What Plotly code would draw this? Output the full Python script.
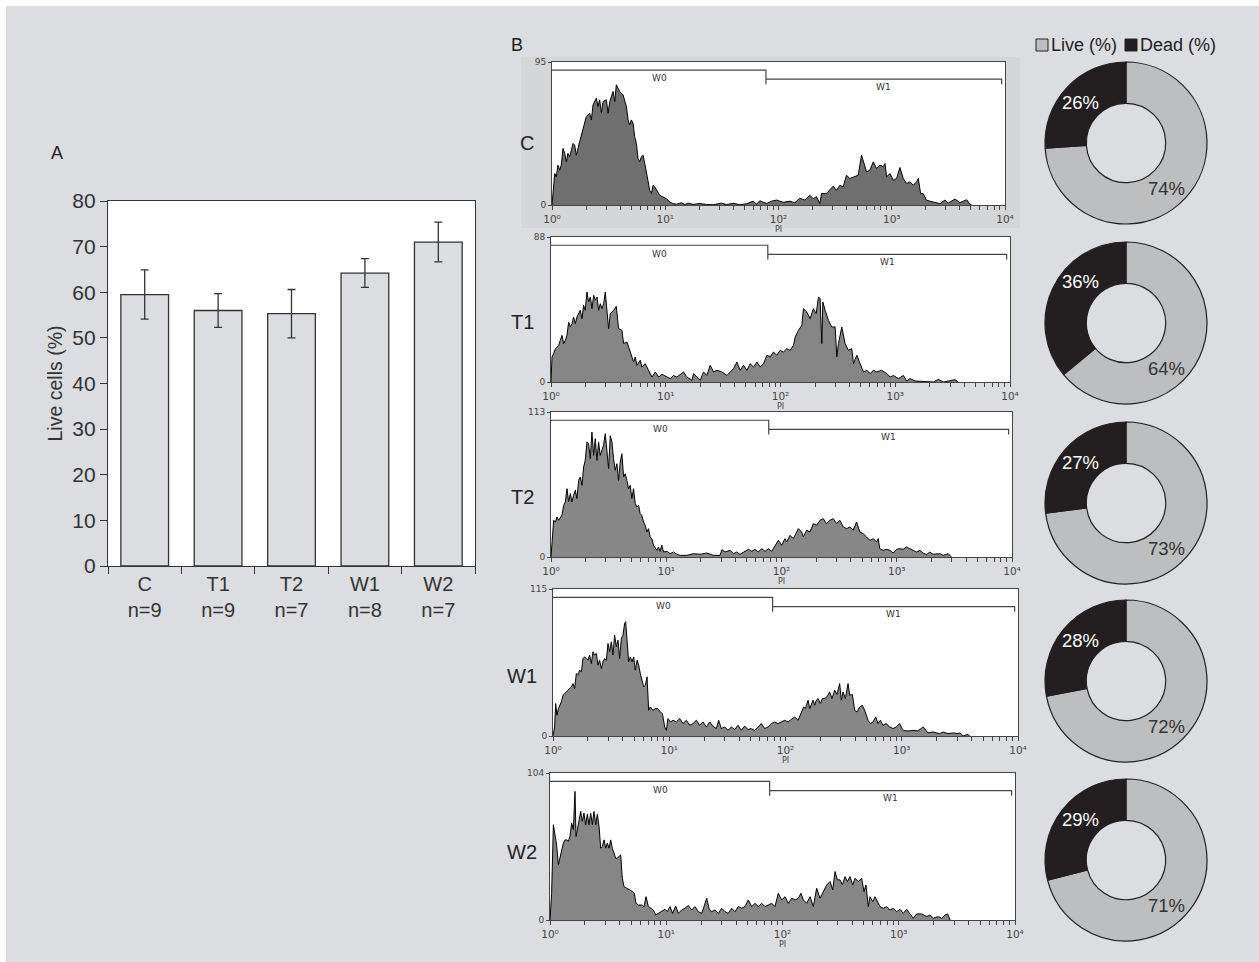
import numpy as np
import plotly.graph_objects as go

# ---------------- data ----------------
groups = ["C", "T1", "T2", "W1", "W2"]
n_per_group = [9, 9, 7, 8, 7]
live_mean = [59.5, 56.0, 55.3, 64.2, 71.0]
live_err = [5.4, 3.7, 5.3, 3.15, 4.35]

live_pct = [74, 64, 73, 72, 71]
dead_pct = [26, 36, 27, 28, 29]
pie_labels = ["Live (%)", "Dead (%)"]

hist_ymax = [95, 88, 113, 115, 104]
gate_split = 77.5      # PI value where W0 ends / W1 starts
gate_end = 9350        # PI value where W1 ends
w0_label_pos = 8.9
w1_label_pos = 850
decade_ticks = [1, 10, 100, 1000, 10000]
decade_labels = ["10\u2070", "10\u00b9", "10\u00b2", "10\u00b3", "10\u2074"]
minor_ticks = [2, 3, 4, 5, 6, 7, 8, 9, 20, 30, 40, 50, 60, 70, 80, 90,
               200, 300, 400, 500, 600, 700, 800, 900,
               2000, 3000, 4000, 5000, 6000, 7000, 8000, 9000]

# PI (as log10 position) and event counts
C_logpi = [0, 0.024, 0.038, 0.053, 0.068, 0.082, 0.097, 0.112, 0.127, 0.141,
           0.156, 0.186, 0.200, 0.215, 0.244, 0.274, 0.303, 0.333, 0.348, 0.362,
           0.392, 0.406, 0.421, 0.436, 0.451, 0.480, 0.495, 0.510, 0.539, 0.554,
           0.568, 0.583, 0.598, 0.627, 0.642, 0.657, 0.672, 0.686, 0.701, 0.716,
           0.730, 0.745, 0.760, 0.775, 0.789, 0.804, 0.819, 0.834, 0.848, 0.863,
           0.878, 0.892, 0.907, 0.922, 0.951, 0.981, 1.010, 1.040, 1.069, 1.099,
           1.143, 1.172, 1.202, 1.246, 1.305, 1.364, 1.423, 1.496, 1.541, 1.599,
           1.658, 1.717, 1.776, 1.806, 1.835, 1.894, 1.938, 1.982, 2.041, 2.100,
           2.144, 2.188, 2.233, 2.277, 2.306, 2.336, 2.365, 2.380, 2.424, 2.454,
           2.483, 2.512, 2.542, 2.571, 2.601, 2.630, 2.660, 2.704, 2.733, 2.763,
           2.778, 2.807, 2.837, 2.866, 2.896, 2.925, 2.940, 2.955, 2.984, 3.014,
           3.043, 3.072, 3.102, 3.131, 3.161, 3.190, 3.219, 3.234, 3.255, 3.278,
           3.308, 3.367, 3.426, 3.470, 3.499, 3.558, 3.602, 3.661, 3.691, 3.706]
C_counts = [0, 20.9, 18.7, 26.5, 23.1, 26.5, 37.6, 34.3, 28.7, 34.3,
            32.0, 40.9, 39.8, 33.1, 42.0, 50.9, 58.7, 61.0, 56.5, 66.5,
            71.0, 65.4, 69.9, 61.0, 68.7, 69.9, 61.0, 68.7, 75.4, 68.7,
            79.9, 77.6, 75.4, 73.2, 68.7, 65.4, 56.5, 53.2, 56.5, 54.3,
            45.4, 40.9, 30.9, 28.7, 32.0, 33.1, 27.6, 20.9, 14.2, 9.8,
            7.6, 13.1, 12.0, 9.8, 6.5, 5.3, 4.2, 2.0, 0.9, 0.5,
            1.5, 0.3, 1.2, 0.4, 1.0, 0.3, 0.2, 1.2, 0.3, 1.1,
            0.2, 0.8, 2.5, 0.6, 2.8, 1.0, 2.5, 3.3, 1.8, 2.5,
            1.5, 4.5, 3.3, 6.5, 4.2, 5.5, 0.9, 7.6, 7.6, 10.2,
            12.5, 9.8, 13.1, 12.0, 19.8, 17.6, 18.7, 19.8, 33.1, 25.4,
            22.0, 23.1, 28.7, 24.3, 26.5, 25.4, 27.6, 18.7, 20.9, 16.5,
            17.6, 24.9, 17.6, 14.2, 15.4, 13.1, 15.4, 17.6, 7.6, 7.6,
            3.1, 2.0, 0.9, 3.3, 1.2, 4.0, 1.5, 3.5, 0.5, 0]

T1_logpi = [0, 0.009, 0.023, 0.038, 0.052, 0.067, 0.081, 0.096, 0.110, 0.125,
            0.139, 0.154, 0.168, 0.183, 0.197, 0.212, 0.226, 0.255, 0.270, 0.284,
            0.299, 0.313, 0.328, 0.343, 0.357, 0.372, 0.386, 0.401, 0.415, 0.430,
            0.444, 0.459, 0.473, 0.488, 0.502, 0.517, 0.546, 0.569, 0.589, 0.618,
            0.633, 0.662, 0.676, 0.705, 0.720, 0.734, 0.749, 0.778, 0.792, 0.821,
            0.851, 0.880, 0.909, 0.938, 0.967, 1.010, 1.039, 1.068, 1.097, 1.155,
            1.184, 1.228, 1.242, 1.271, 1.300, 1.329, 1.358, 1.387, 1.417, 1.446,
            1.489, 1.533, 1.562, 1.591, 1.620, 1.649, 1.678, 1.707, 1.736, 1.765,
            1.794, 1.823, 1.852, 1.881, 1.910, 1.939, 1.968, 1.997, 2.026, 2.055,
            2.084, 2.113, 2.128, 2.157, 2.186, 2.200, 2.229, 2.258, 2.287, 2.311,
            2.331, 2.345, 2.360, 2.369, 2.389, 2.418, 2.447, 2.476, 2.491, 2.505,
            2.534, 2.563, 2.592, 2.621, 2.636, 2.665, 2.694, 2.723, 2.752, 2.781,
            2.810, 2.839, 2.882, 2.926, 2.955, 2.984, 3.028, 3.071, 3.100, 3.129,
            3.173, 3.245, 3.332, 3.376, 3.420, 3.521, 3.550]
T1_counts = [0, 15.2, 17.2, 20.2, 21.2, 22.3, 25.3, 28.3, 23.3, 25.3,
             28.3, 36.4, 33.4, 35.4, 39.4, 35.4, 39.4, 43.5, 38.4, 46.5,
             43.5, 54.6, 48.6, 51.6, 44.5, 52.6, 49.6, 51.6, 43.5, 47.5,
             44.5, 47.5, 54.6, 44.5, 32.4, 41.5, 43.5, 45.9, 32.4, 31.4,
             23.3, 24.3, 21.2, 15.2, 12.1, 15.2, 10.1, 13.2, 9.1, 11.1,
             7.1, 3.0, 6.1, 3.0, 4.7, 3.0, 2.0, 4.0, 3.0, 6.1,
             3.0, 1.0, 5.1, 3.0, 1.0, 6.1, 4.0, 10.1, 6.1, 7.1,
             6.1, 4.0, 6.1, 8.1, 12.1, 7.1, 10.1, 7.1, 11.1, 9.1,
             12.1, 9.1, 11.1, 16.2, 15.2, 18.2, 16.2, 19.2, 18.2, 20.2,
             19.2, 22.3, 27.3, 31.4, 34.4, 44.5, 42.5, 38.4, 44.5, 41.5,
             51.6, 50.6, 23.3, 48.6, 43.5, 37.4, 33.4, 33.4, 15.2, 23.3,
             33.4, 23.3, 19.2, 20.2, 11.1, 16.2, 11.1, 6.1, 7.1, 5.1,
             7.1, 6.1, 7.1, 5.1, 3.0, 4.0, 2.0, 4.0, 0.6, 2.0,
             0.6, 0.4, 0, 1.6, 0, 1.4, 0]

T2_logpi = [0, 0.009, 0.023, 0.038, 0.052, 0.066, 0.081, 0.095, 0.110, 0.124,
            0.139, 0.153, 0.168, 0.182, 0.196, 0.211, 0.225, 0.240, 0.254, 0.269,
            0.283, 0.297, 0.312, 0.326, 0.341, 0.355, 0.370, 0.384, 0.399, 0.413,
            0.427, 0.442, 0.456, 0.471, 0.485, 0.500, 0.514, 0.529, 0.543, 0.557,
            0.572, 0.586, 0.601, 0.615, 0.630, 0.644, 0.658, 0.673, 0.687, 0.702,
            0.716, 0.731, 0.745, 0.760, 0.774, 0.788, 0.803, 0.817, 0.832, 0.846,
            0.861, 0.875, 0.890, 0.904, 0.918, 0.933, 0.947, 0.962, 0.976, 1.005,
            1.034, 1.063, 1.092, 1.121, 1.178, 1.236, 1.294, 1.352, 1.409, 1.467,
            1.482, 1.510, 1.554, 1.583, 1.612, 1.640, 1.684, 1.713, 1.742, 1.770,
            1.799, 1.828, 1.857, 1.886, 1.915, 1.944, 1.973, 2.001, 2.030, 2.045,
            2.074, 2.103, 2.131, 2.146, 2.175, 2.189, 2.218, 2.247, 2.276, 2.305,
            2.334, 2.362, 2.391, 2.420, 2.449, 2.478, 2.507, 2.536, 2.565, 2.594,
            2.622, 2.651, 2.680, 2.709, 2.738, 2.767, 2.796, 2.825, 2.839, 2.853,
            2.882, 2.911, 2.940, 2.969, 2.998, 3.027, 3.056, 3.084, 3.113, 3.142,
            3.171, 3.200, 3.229, 3.258, 3.287, 3.315, 3.373, 3.402, 3.446, 3.474]
T2_counts = [0, 9.1, 28.6, 27.3, 31.2, 28.6, 31.2, 32.5, 40.3, 42.9,
             53.2, 42.9, 49.4, 42.9, 48.1, 52.0, 45.5, 59.7, 62.3, 55.8,
             70.1, 75.3, 89.6, 88.3, 76.6, 97.4, 79.2, 92.2, 75.3, 89.6,
             79.2, 83.1, 87.0, 96.1, 84.4, 68.8, 94.5, 89.6, 76.6, 67.5,
             72.7, 59.7, 74.0, 80.5, 62.3, 64.9, 59.7, 53.2, 55.8, 45.5,
             53.2, 41.6, 39.0, 40.3, 33.8, 32.5, 27.3, 24.7, 19.5, 22.1,
             15.6, 14.3, 9.1, 6.5, 5.2, 7.8, 4.4, 9.1, 3.9, 4.4,
             2.6, 3.9, 2.1, 1.3, 1.3, 2.6, 2.1, 3.1, 1.3, 1.3,
             5.7, 3.9, 5.2, 2.6, 3.9, 2.1, 4.4, 6.0, 4.4, 6.0,
             3.9, 6.5, 4.4, 6.5, 4.4, 9.1, 13.0, 9.1, 14.3, 11.7,
             16.9, 14.3, 19.5, 22.1, 19.5, 15.6, 20.8, 19.5, 26.0, 24.7,
             28.6, 29.9, 26.0, 28.6, 29.9, 26.0, 28.6, 23.4, 22.1, 23.4,
             20.8, 27.3, 19.5, 18.2, 15.6, 13.0, 14.3, 11.7, 14.3, 6.5,
             5.2, 6.0, 5.2, 3.1, 6.0, 6.5, 6.0, 7.8, 6.5, 5.2,
             3.9, 5.2, 3.1, 1.8, 3.9, 2.1, 2.6, 1.3, 2.6, 0]

W1_logpi = [0, 0.014, 0.023, 0.034, 0.046, 0.057, 0.072, 0.086, 0.100, 0.115,
            0.129, 0.143, 0.158, 0.172, 0.186, 0.201, 0.215, 0.229, 0.244, 0.258,
            0.272, 0.287, 0.301, 0.315, 0.330, 0.344, 0.358, 0.373, 0.387, 0.401,
            0.416, 0.430, 0.444, 0.459, 0.473, 0.487, 0.502, 0.516, 0.530, 0.545,
            0.559, 0.573, 0.588, 0.602, 0.616, 0.625, 0.637, 0.651, 0.665, 0.680,
            0.694, 0.708, 0.723, 0.737, 0.751, 0.766, 0.780, 0.794, 0.809, 0.823,
            0.837, 0.860, 0.880, 0.903, 0.923, 0.941, 0.961, 0.975, 0.989, 1.009,
            1.032, 1.061, 1.090, 1.118, 1.147, 1.176, 1.204, 1.233, 1.262, 1.290,
            1.319, 1.348, 1.376, 1.405, 1.425, 1.448, 1.477, 1.505, 1.534, 1.563,
            1.591, 1.620, 1.649, 1.677, 1.706, 1.735, 1.763, 1.792, 1.821, 1.849,
            1.878, 1.907, 1.935, 1.964, 1.993, 2.022, 2.050, 2.079, 2.108, 2.136,
            2.156, 2.171, 2.194, 2.208, 2.222, 2.237, 2.251, 2.265, 2.280, 2.300,
            2.317, 2.337, 2.357, 2.380, 2.400, 2.423, 2.443, 2.466, 2.480, 2.495,
            2.515, 2.538, 2.552, 2.575, 2.595, 2.615, 2.638, 2.661, 2.681, 2.710,
            2.730, 2.753, 2.776, 2.796, 2.816, 2.839, 2.867, 2.896, 2.925, 2.953,
            2.982, 3.011, 3.054, 3.097, 3.140, 3.183, 3.226, 3.269, 3.326, 3.355,
            3.398, 3.441, 3.484, 3.498, 3.527, 3.570, 3.584]
W1_counts = [0, 7.1, 25.4, 16.2, 21.4, 24.0, 26.7, 31.9, 33.2, 34.5,
             35.8, 37.1, 38.4, 41.0, 37.1, 48.9, 47.6, 51.5, 50.2, 60.6,
             61.9, 60.6, 59.3, 63.3, 56.7, 65.9, 63.3, 64.6, 55.4, 59.3,
             52.8, 58.0, 60.6, 59.3, 72.4, 65.9, 73.7, 63.3, 78.9, 69.8,
             75.0, 60.6, 76.3, 78.9, 88.1, 89.4, 73.7, 58.0, 61.9, 58.0,
             61.9, 51.5, 59.3, 55.4, 48.9, 43.6, 38.4, 39.7, 46.3, 20.1,
             22.7, 20.1, 21.4, 21.4, 18.8, 17.5, 7.1, 4.4, 13.6, 11.0,
             12.3, 11.0, 13.6, 9.7, 12.3, 8.4, 9.7, 12.3, 8.4, 11.0,
             7.1, 11.0, 7.6, 5.8, 12.3, 5.8, 7.1, 4.4, 7.1, 5.0,
             8.4, 4.4, 7.8, 5.0, 5.8, 4.4, 7.1, 9.7, 5.8, 7.1,
             9.7, 11.0, 9.7, 11.0, 12.3, 11.0, 12.8, 14.9, 12.3, 18.8,
             22.7, 21.4, 28.0, 21.4, 25.4, 28.0, 24.0, 28.0, 29.3, 25.4,
             29.3, 29.3, 30.6, 34.5, 29.3, 35.8, 32.5, 41.0, 28.0, 34.5,
             29.3, 41.0, 31.9, 32.5, 20.1, 18.8, 22.7, 24.0, 20.1, 12.3,
             9.7, 11.0, 14.9, 9.7, 12.3, 8.4, 9.7, 7.1, 5.8, 7.1,
             9.7, 4.4, 3.9, 4.4, 3.9, 7.1, 2.4, 3.1, 1.8, 3.1,
             1.8, 2.4, 1.8, 2.4, 0, 1.3, 0]

W2_logpi = [0, 0.014, 0.029, 0.043, 0.057, 0.072, 0.086, 0.100, 0.115, 0.129,
            0.143, 0.158, 0.172, 0.186, 0.201, 0.215, 0.224, 0.235, 0.249, 0.264,
            0.278, 0.292, 0.307, 0.321, 0.335, 0.350, 0.364, 0.378, 0.393, 0.407,
            0.422, 0.436, 0.450, 0.465, 0.479, 0.493, 0.508, 0.522, 0.536, 0.551,
            0.565, 0.579, 0.594, 0.608, 0.622, 0.637, 0.659, 0.688, 0.711, 0.725,
            0.740, 0.760, 0.789, 0.809, 0.826, 0.846, 0.866, 0.889, 0.909, 0.932,
            0.961, 0.989, 1.009, 1.032, 1.055, 1.081, 1.104, 1.133, 1.161, 1.190,
            1.219, 1.247, 1.276, 1.305, 1.325, 1.348, 1.371, 1.391, 1.419, 1.448,
            1.477, 1.505, 1.534, 1.563, 1.591, 1.620, 1.649, 1.677, 1.706, 1.735,
            1.763, 1.792, 1.821, 1.849, 1.878, 1.907, 1.935, 1.964, 1.993, 2.022,
            2.050, 2.079, 2.108, 2.136, 2.159, 2.179, 2.208, 2.237, 2.265, 2.294,
            2.323, 2.351, 2.380, 2.409, 2.432, 2.452, 2.472, 2.495, 2.515, 2.538,
            2.558, 2.581, 2.604, 2.624, 2.652, 2.681, 2.701, 2.718, 2.738, 2.753,
            2.776, 2.796, 2.816, 2.839, 2.867, 2.896, 2.925, 2.953, 2.982, 3.011,
            3.039, 3.068, 3.097, 3.125, 3.154, 3.197, 3.240, 3.269, 3.297, 3.340,
            3.369, 3.398, 3.421, 3.441]
W2_counts = [0, 18.9, 67.4, 59.1, 53.0, 39.0, 44.9, 49.6, 54.4, 56.7,
             56.7, 55.6, 59.1, 68.5, 63.8, 91.0, 59.1, 63.8, 70.9, 76.8,
             69.7, 75.6, 67.4, 74.8, 67.4, 75.6, 67.4, 76.8, 67.4, 74.8,
             66.2, 50.8, 52.0, 56.7, 50.8, 54.4, 50.8, 56.7, 50.8, 47.3,
             43.7, 43.7, 44.9, 46.1, 29.5, 23.6, 22.5, 21.3, 20.1, 18.9,
             11.8, 10.6, 10.6, 9.5, 16.5, 9.5, 8.3, 7.1, 3.5, 4.7,
             5.9, 7.6, 5.9, 9.5, 4.7, 9.9, 4.7, 7.1, 8.3, 10.2,
             7.1, 9.5, 5.9, 4.7, 9.5, 15.4, 7.1, 5.9, 7.1, 4.7,
             8.3, 5.9, 4.7, 8.3, 5.9, 9.5, 8.3, 9.5, 14.2, 9.5,
             11.8, 9.5, 11.8, 9.5, 10.6, 11.8, 9.5, 18.9, 14.2, 16.5,
             11.8, 15.4, 14.2, 15.4, 18.9, 14.2, 11.8, 16.5, 9.5, 22.5,
             15.4, 20.1, 24.8, 27.2, 21.3, 34.3, 28.4, 28.4, 24.8, 30.7,
             27.2, 30.7, 24.8, 29.5, 27.2, 29.5, 20.1, 24.8, 9.5, 16.5,
             13.0, 16.5, 13.0, 9.5, 8.3, 9.5, 7.1, 8.3, 5.9, 7.6,
             4.7, 7.6, 4.3, 1.2, 4.3, 4.3, 2.4, 3.5, 1.2, 2.4,
             1.2, 3.5, 4.3, 0]

hist_logpi = [C_logpi, T1_logpi, T2_logpi, W1_logpi, W2_logpi]
hist_counts = [C_counts, T1_counts, T2_counts, W1_counts, W2_counts]

# ---------------- layout helpers ----------------
W, H = 1259, 962


def xd(a, b):
    return [a / W, b / W]


def yd(top, bottom):
    return [1 - bottom / H, 1 - top / H]


def px(x):
    return x / W


def py(y):
    return 1 - y / H


SANS = "Liberation Sans, Arial, sans-serif"
DJ = "DejaVu Sans, sans-serif"
INK = "#333333"
BG = "#dcdde0"
LIVE_C = "#bdbec0"
DEAD_C = "#231f20"

hist_boxes = [(552, 1005, 62, 205), (551, 1010, 237, 382), (551, 1012, 412, 557),
              (553, 1018, 589, 736), (550, 1015, 773, 920)]
hist_fill = ["#6f6f6f", "#858585", "#878787", "#878787", "#868686"]
label_pos = [(527, 143), (522, 322), (522, 497), (522, 676), (522, 852)]
donut_cy = [143, 323, 503, 681, 860]
DONUT_CX, DONUT_R = 1126, 81


def note(x, y, text, size, color="#222", family=SANS, xanchor="center"):
    return dict(xref="paper", yref="paper", x=px(x), y=py(y), text=text,
                showarrow=False, xanchor=xanchor, yanchor="middle",
                font=dict(family=family, size=size, color=color))


fig = go.Figure()

# ---- Panel A: bars ----
fig.add_trace(go.Bar(
    x=list(range(len(groups))), y=live_mean, width=0.65,
    marker=dict(color=BG, line=dict(color=INK, width=1.3)),
    error_y=dict(type="data", array=live_err, color=INK, thickness=1.3, width=4),
    xaxis="x", yaxis="y", showlegend=False, hoverinfo="skip"))

layout_axes = {}
layout_axes["xaxis"] = dict(
    domain=xd(108, 475), range=[-0.5, len(groups) - 0.5], anchor="y", automargin=False,
    tickvals=list(range(len(groups))),
    ticktext=[f"{g}<br>n={n}" for g, n in zip(groups, n_per_group)],
    ticks="", showline=True, mirror=True, linecolor=INK, linewidth=1.3,
    tickfont=dict(family=SANS, size=20, color=INK), showgrid=False, zeroline=False,
    minor=dict(tickvals=[i - 0.5 for i in range(len(groups) + 1)], ticks="outside",
               ticklen=7, tickcolor=INK, tickwidth=1.3, showgrid=False))
layout_axes["yaxis"] = dict(
    domain=yd(201, 566), range=[0, 80], dtick=10, anchor="x", automargin=False,
    ticks="outside", ticklen=7, tickcolor=INK, tickwidth=1.3,
    showline=True, mirror=True, linecolor=INK, linewidth=1.3,
    tickfont=dict(family=SANS, size=21, color=INK), showgrid=False, zeroline=False,
    title=dict(text="Live cells (%)", font=dict(family=SANS, size=19.5, color=INK), standoff=4))

# ---- Panel B: histograms ----
shapes = [
    dict(type="rect", xref="paper", yref="paper", x0=0, x1=1, y0=py(6), y1=1,
         fillcolor="white", line=dict(width=0), layer="below"),
    dict(type="rect", xref="paper", yref="paper", x0=0, x1=px(6), y0=0, y1=1,
         fillcolor="white", line=dict(width=0), layer="below"),
    dict(type="rect", xref="paper", yref="paper", x0=px(521), x1=px(1020),
         y0=py(228), y1=py(57), fillcolor="#d5d6d7", line=dict(width=0), layer="below"),
]
annotations = []

for i in range(5):
    ax = i + 2
    xl, xr, yt, yb = hist_boxes[i]
    ymax = hist_ymax[i]
    pi = [10 ** d for d in hist_logpi[i]]
    fig.add_trace(go.Scatter(
        x=pi, y=hist_counts[i], mode="lines", fill="tozeroy",
        fillcolor=hist_fill[i], line=dict(color="black", width=1),
        xaxis=f"x{ax}", yaxis=f"y{ax}", showlegend=False, hoverinfo="skip"))
    # gates
    fig.add_trace(go.Scatter(
        x=[1, gate_split, gate_split], y=[0.943 * ymax, 0.943 * ymax, 0.845 * ymax],
        mode="lines", line=dict(color="#444", width=1.2),
        xaxis=f"x{ax}", yaxis=f"y{ax}", showlegend=False, hoverinfo="skip"))
    fig.add_trace(go.Scatter(
        x=[gate_split, gate_end, gate_end], y=[0.88 * ymax, 0.88 * ymax, 0.845 * ymax],
        mode="lines", line=dict(color="#444", width=1.2),
        xaxis=f"x{ax}", yaxis=f"y{ax}", showlegend=False, hoverinfo="skip"))
    shapes.append(dict(type="rect", xref=f"x{ax} domain", yref=f"y{ax} domain",
                       x0=0, x1=1, y0=0, y1=1, fillcolor="white", line=dict(width=0),
                       layer="below"))
    layout_axes[f"xaxis{ax}"] = dict(
        domain=xd(xl, xr), type="log", range=[0, 4], anchor=f"y{ax}", automargin=False,
        tickvals=decade_ticks, ticktext=decade_labels, ticks="outside", ticklen=4,
        tickcolor="#444", tickwidth=1, showline=True, mirror=True, linecolor="#444",
        linewidth=1, showgrid=False, zeroline=False,
        minor=dict(tickvals=minor_ticks, ticks="outside", ticklen=4, tickcolor="#444",
                   tickwidth=1, showgrid=False),
        tickfont=dict(family=DJ, size=10.5, color="#444"),
        title=dict(text="PI", font=dict(family=DJ, size=8, color="#444"), standoff=0))
    layout_axes[f"yaxis{ax}"] = dict(
        domain=yd(yt, yb), range=[0, ymax], anchor=f"x{ax}", automargin=False,
        tickvals=[0, ymax], ticks="outside", ticklen=3, tickcolor="#444",
        showline=True, mirror=True, linecolor="#444", linewidth=1,
        showgrid=False, zeroline=False,
        tickfont=dict(family=DJ, size=9, color="#444"))
    annotations.append(dict(xref=f"x{ax}", yref=f"y{ax}", x=np.log10(w0_label_pos),
                            y=0.885 * ymax, text="W0", showarrow=False,
                            font=dict(family=DJ, size=9, color="#333")))
    annotations.append(dict(xref=f"x{ax}", yref=f"y{ax}", x=np.log10(w1_label_pos),
                            y=0.828 * ymax, text="W1", showarrow=False,
                            font=dict(family=DJ, size=9, color="#333")))
    lx, ly = label_pos[i]
    annotations.append(note(lx, ly, groups[i], 20))

    # donut
    cy = donut_cy[i]
    fig.add_trace(go.Pie(
        labels=pie_labels, values=[live_pct[i], dead_pct[i]],
        domain=dict(x=xd(DONUT_CX - DONUT_R, DONUT_CX + DONUT_R),
                    y=yd(cy - DONUT_R, cy + DONUT_R)),
        hole=0.49, sort=False, direction="clockwise", rotation=0, automargin=False,
        marker=dict(colors=[LIVE_C, DEAD_C], line=dict(color=DEAD_C, width=1.2)),
        textinfo="none", showlegend=False, hoverinfo="skip"))
    annotations.append(note(DONUT_CX - 46, cy - 41, f"{dead_pct[i]}%", 18.5, color="white"))
    annotations.append(note(DONUT_CX + 40, cy + 45, f"{live_pct[i]}%", 18.5, color="#333"))

# legend for donuts (square swatch + label)
leg_items = [(1036, LIVE_C, pie_labels[0]), (1125, DEAD_C, pie_labels[1])]
for x0, col, lab in leg_items:
    shapes.append(dict(type="rect", xref="paper", yref="paper", x0=px(x0), x1=px(x0 + 12),
                       y0=py(51), y1=py(39), fillcolor=col,
                       line=dict(color="#222", width=1)))
    annotations.append(note(x0 + 13, 45, lab, 18, xanchor="left"))

annotations.append(note(57, 153, "A", 18))
annotations.append(note(517, 45, "B", 18))

fig.update_layout(
    width=W, height=H, margin=dict(l=0, r=0, t=0, b=0, autoexpand=False),
    paper_bgcolor=BG, plot_bgcolor="white", showlegend=False,
    shapes=shapes, annotations=annotations,
    **layout_axes)

fig.write_html("out.html",
               post_script="document.body.style.margin='0px';document.body.style.overflow='hidden';")
